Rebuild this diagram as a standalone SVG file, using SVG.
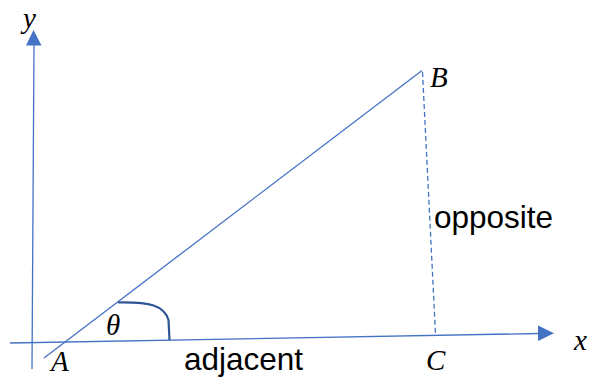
<svg xmlns="http://www.w3.org/2000/svg" width="590" height="378" viewBox="0 0 590 378">
<style>
.ln{stroke:#4472C4;stroke-width:1.3;fill:none}
.dash{stroke:#4472C4;stroke-width:1.3;fill:none;stroke-dasharray:5 3}
.arc{stroke:#2F5597;stroke-width:2.2;fill:none}
.ah{fill:#4472C4;stroke:none}
.m{font-family:"Liberation Serif","DejaVu Serif",serif;font-style:italic;font-size:29px;fill:#000}
.t{font-family:"Liberation Sans",Arial,sans-serif;font-size:31.5px;fill:#000}
</style>
<g id="connectors">
<line class="ln" x1="32" y1="369" x2="34" y2="44"/>
<polygon class="ah" points="33.5,30 41.5,45.5 26,45.5"/>
<line class="ln" x1="10" y1="343" x2="539" y2="333.5"/>
<polygon class="ah" points="554,333.3 538,325.5 538,341"/>
<line class="ln" x1="44" y1="358" x2="422" y2="70.5"/>
<line class="dash" x1="422.5" y1="72" x2="435.5" y2="334"/>
<path class="arc" d="M118,302.5 C150,302 164,305 168.5,320 L169.5,340"/>
</g>
<g id="label-y"><text class="m" x="23" y="28">y</text></g>
<g id="label-B"><text class="m" x="430" y="87">B</text></g>
<g id="label-opposite"><text class="t" x="434" y="228">opposite</text></g>
<g id="label-theta"><text class="m" x="106" y="335">θ</text></g>
<g id="label-A"><text class="m" x="51" y="371">A</text></g>
<g id="label-adjacent"><text class="t" x="184" y="370">adjacent</text></g>
<g id="label-C"><text class="m" x="426" y="370">C</text></g>
<g id="label-x"><text class="m" x="574" y="350">x</text></g>
</svg>
